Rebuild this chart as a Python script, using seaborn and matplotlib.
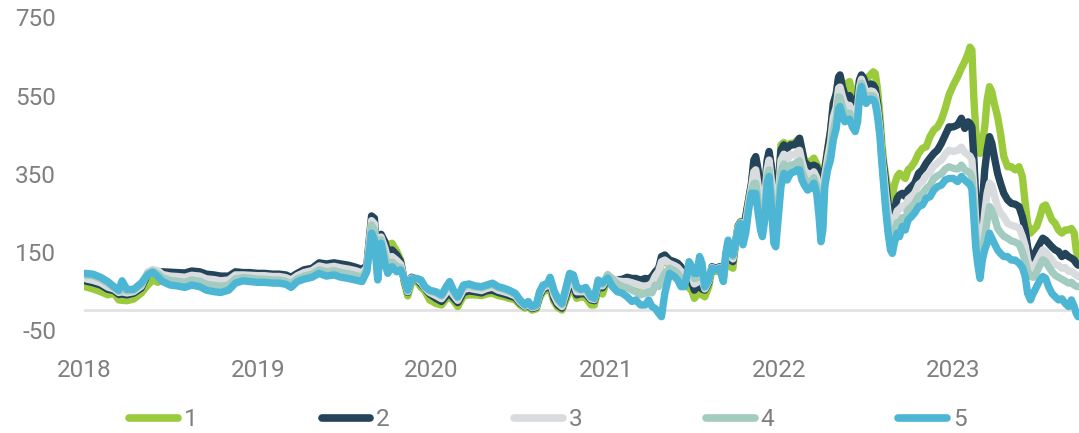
import matplotlib
matplotlib.use("Agg")
import matplotlib.pyplot as plt
import matplotlib.dates as mdates
from matplotlib.lines import Line2D
import pandas as pd
import seaborn as sns

# Observation dates (one line per year)
dates = [
    "2018-01-02", "2018-01-20", "2018-02-05", "2018-02-20", "2018-03-05", "2018-03-15", "2018-03-22", "2018-04-01", "2018-04-15", "2018-05-01", "2018-05-15", "2018-05-25", "2018-06-05", "2018-06-15", "2018-07-01", "2018-07-15", "2018-08-01", "2018-08-15", "2018-09-01", "2018-09-15", "2018-10-01", "2018-10-15", "2018-11-01", "2018-11-15", "2018-12-01", "2018-12-15",
    "2019-01-01", "2019-01-15", "2019-02-01", "2019-02-15", "2019-03-01", "2019-03-12", "2019-03-25", "2019-04-08", "2019-04-25", "2019-05-10", "2019-05-25", "2019-06-10", "2019-06-25", "2019-07-10", "2019-07-25", "2019-08-08", "2019-08-18", "2019-08-28", "2019-09-03", "2019-09-10", "2019-09-17", "2019-09-25", "2019-10-01", "2019-10-10", "2019-10-20", "2019-10-28", "2019-11-05", "2019-11-12", "2019-11-20", "2019-12-01", "2019-12-10", "2019-12-18", "2019-12-28",
    "2020-01-10", "2020-01-22", "2020-02-01", "2020-02-08", "2020-02-16", "2020-02-25", "2020-03-08", "2020-03-20", "2020-04-01", "2020-04-15", "2020-04-25", "2020-05-08", "2020-05-20", "2020-06-01", "2020-06-12", "2020-06-25", "2020-07-05", "2020-07-15", "2020-07-22", "2020-07-30", "2020-08-08", "2020-08-15", "2020-08-22", "2020-09-01", "2020-09-06", "2020-09-14", "2020-09-22", "2020-10-01", "2020-10-10", "2020-10-17", "2020-10-25", "2020-11-01", "2020-11-10", "2020-11-20", "2020-12-01", "2020-12-08", "2020-12-16", "2020-12-25",
    "2021-01-05", "2021-01-15", "2021-01-25", "2021-02-05", "2021-02-15", "2021-02-25", "2021-03-05", "2021-03-15", "2021-03-25", "2021-04-01", "2021-04-08", "2021-04-15", "2021-04-22", "2021-04-28", "2021-05-05", "2021-05-15", "2021-05-25", "2021-06-01", "2021-06-08", "2021-06-15", "2021-06-20", "2021-06-25", "2021-07-01", "2021-07-06", "2021-07-12", "2021-07-17", "2021-07-22", "2021-07-28", "2021-08-05", "2021-08-12", "2021-08-20", "2021-08-28", "2021-09-05", "2021-09-10", "2021-09-15", "2021-09-20", "2021-09-25", "2021-10-01", "2021-10-06", "2021-10-11", "2021-10-16", "2021-10-22", "2021-10-28", "2021-11-03", "2021-11-08", "2021-11-12", "2021-11-17", "2021-11-22", "2021-11-26", "2021-12-01", "2021-12-06", "2021-12-10", "2021-12-15", "2021-12-20", "2021-12-24", "2021-12-29",
    "2022-01-04", "2022-01-10", "2022-01-17", "2022-01-24", "2022-02-01", "2022-02-07", "2022-02-12", "2022-02-17", "2022-02-22", "2022-03-01", "2022-03-07", "2022-03-14", "2022-03-20", "2022-03-25", "2022-03-29", "2022-04-02", "2022-04-06", "2022-04-12", "2022-04-18", "2022-04-24", "2022-04-30", "2022-05-05", "2022-05-08", "2022-05-13", "2022-05-18", "2022-05-23", "2022-05-28", "2022-06-03", "2022-06-09", "2022-06-14", "2022-06-18", "2022-06-22", "2022-06-27", "2022-07-02", "2022-07-07", "2022-07-12", "2022-07-17", "2022-07-21", "2022-07-26", "2022-07-31", "2022-08-04", "2022-08-08", "2022-08-12", "2022-08-17", "2022-08-22", "2022-08-26", "2022-08-30", "2022-09-05", "2022-09-10", "2022-09-16", "2022-09-22", "2022-09-28", "2022-10-05", "2022-10-12", "2022-10-20", "2022-10-28", "2022-11-05", "2022-11-13", "2022-11-21", "2022-11-29", "2022-12-07", "2022-12-15", "2022-12-23",
    "2023-01-01", "2023-01-10", "2023-01-18", "2023-01-25", "2023-02-01", "2023-02-05", "2023-02-09", "2023-02-13", "2023-02-17", "2023-02-21", "2023-02-26", "2023-03-03", "2023-03-08", "2023-03-13", "2023-03-18", "2023-03-23", "2023-03-28", "2023-04-04", "2023-04-10", "2023-04-17", "2023-04-25", "2023-05-03", "2023-05-11", "2023-05-19", "2023-05-26", "2023-06-01", "2023-06-06", "2023-06-12", "2023-06-18", "2023-06-25", "2023-07-02", "2023-07-08", "2023-07-14", "2023-07-20", "2023-07-27", "2023-08-03", "2023-08-10", "2023-08-17", "2023-08-24", "2023-08-31", "2023-09-06", "2023-09-12", "2023-09-16", "2023-09-20",
]

series_1 = [
    61, 55, 48, 40, 44, 27, 26, 25, 29, 44, 65, 78, 72, 80, 78, 76, 74, 80, 77, 70, 67, 65, 68, 82, 84, 84,
    82, 82, 80, 80, 77, 70, 83, 90, 95, 107, 102, 105, 100, 98, 93, 88, 105, 225, 220, 92, 185, 170, 168, 172, 151, 130, 70, 37, 72, 75, 59, 50, 27,
    18, 14, 30, 35, 25, 10, 37, 40, 40, 38, 42, 44, 38, 35, 31, 27, 14, 6, 10, 1, 4, 32, 48, 52, 55, 23, 8, 1, 30, 55, 52, 31, 35, 33, 14, 14, 55, 42,
    82, 80, 73, 71, 71, 68, 65, 61, 58, 61, 67, 85, 97, 122, 126, 117, 112, 107, 97, 78, 62, 58, 50, 31, 40, 75, 40, 35, 60, 105, 100, 106, 82, 120, 140, 112, 108, 175, 218, 228, 200, 242, 285, 325, 380, 385, 350, 280, 285, 315, 380, 400, 360, 285, 245, 310,
    424, 430, 420, 428, 428, 436, 440, 412, 385, 378, 381, 390, 375, 360, 345, 340, 365, 412, 460, 530, 555, 595, 600, 578, 560, 582, 586, 560, 545, 560, 592, 600, 596, 590, 598, 605, 611, 607, 565, 496, 428, 377, 345, 308, 283, 291, 320, 343, 351, 345, 338, 360, 368, 381, 402, 415, 419, 445, 462, 470, 488, 517, 552,
    577, 598, 620, 637, 658, 674, 667, 547, 462, 419, 402, 428, 470, 539, 573, 560, 530, 496, 454, 394, 368, 368, 360, 368, 343, 274, 223, 198, 206, 215, 240, 266, 270, 253, 232, 223, 206, 198, 206, 206, 210, 198, 155, 138,
]

series_2 = [
    76, 71, 65, 54, 51, 41, 42, 40, 44, 57, 94, 100, 98, 99, 98, 97, 96, 101, 99, 93, 91, 88, 88, 99, 97, 97,
    95, 95, 93, 93, 91, 85, 95, 104, 108, 122, 119, 122, 119, 116, 111, 105, 115, 242, 236, 99, 195, 176, 151, 155, 142, 125, 75, 46, 85, 80, 68, 57, 42,
    31, 23, 38, 44, 32, 20, 46, 50, 48, 45, 50, 52, 46, 42, 38, 33, 19, 10, 14, 5, 8, 38, 54, 60, 71, 31, 14, 6, 40, 65, 62, 40, 43, 42, 27, 25, 62, 58,
    80, 78, 78, 80, 85, 82, 82, 78, 82, 80, 87, 99, 108, 138, 142, 129, 125, 121, 112, 95, 85, 75, 70, 52, 60, 95, 55, 52, 70, 112, 108, 112, 95, 130, 160, 129, 125, 178, 215, 226, 198, 240, 283, 326, 385, 394, 360, 283, 274, 317, 385, 407, 368, 283, 240, 317,
    411, 424, 415, 424, 424, 432, 441, 411, 381, 372, 368, 372, 368, 352, 330, 335, 360, 411, 458, 530, 554, 598, 603, 573, 552, 547, 550, 535, 530, 545, 590, 603, 594, 573, 577, 580, 577, 569, 530, 470, 402, 368, 326, 274, 240, 245, 257, 287, 296, 300, 292, 308, 317, 326, 351, 360, 377, 390, 402, 411, 428, 449, 470,
    470, 475, 492, 466, 483, 479, 470, 394, 291, 240, 223, 274, 360, 411, 445, 428, 394, 351, 326, 300, 283, 274, 272, 266, 240, 206, 163, 129, 138, 155, 172, 185, 180, 172, 163, 155, 151, 138, 146, 138, 134, 129, 121, 116,
]

series_3 = [
    82, 77, 71, 60, 55, 46, 48, 45, 48, 62, 99, 105, 102, 92, 88, 87, 85, 90, 88, 81, 79, 76, 78, 91, 91, 90,
    89, 89, 87, 87, 84, 78, 89, 97, 102, 114, 110, 113, 109, 106, 102, 96, 110, 230, 222, 92, 188, 160, 130, 138, 128, 118, 78, 48, 83, 81, 72, 58, 46,
    38, 30, 46, 56, 40, 26, 54, 57, 54, 51, 56, 60, 52, 48, 44, 37, 22, 11, 17, 7, 10, 42, 58, 64, 76, 40, 20, 10, 48, 78, 74, 48, 48, 48, 30, 28, 68, 63,
    85, 83, 76, 74, 74, 71, 68, 64, 61, 64, 70, 88, 100, 125, 129, 120, 115, 110, 100, 85, 87, 95, 85, 68, 72, 110, 80, 55, 74, 110, 106, 110, 88, 136, 168, 140, 132, 177, 212, 225, 188, 225, 275, 316, 355, 360, 320, 255, 245, 290, 362, 385, 330, 240, 210, 290,
    385, 400, 385, 400, 398, 405, 410, 382, 360, 348, 346, 355, 340, 310, 290, 295, 345, 390, 430, 495, 520, 569, 572, 548, 528, 525, 525, 510, 502, 520, 572, 592, 575, 556, 560, 562, 560, 552, 515, 460, 394, 350, 300, 250, 210, 205, 230, 255, 260, 268, 260, 285, 292, 300, 322, 330, 345, 355, 370, 378, 385, 400, 410,
    407, 410, 418, 405, 398, 395, 385, 320, 230, 190, 165, 185, 250, 300, 326, 320, 295, 265, 250, 240, 223, 218, 215, 212, 190, 165, 130, 104, 110, 125, 142, 155, 150, 140, 130, 118, 115, 108, 110, 100, 100, 95, 90, 87,
]

series_4 = [
    91, 89, 81, 70, 58, 49, 55, 50, 51, 66, 95, 101, 94, 84, 77, 75, 72, 78, 75, 67, 64, 62, 65, 81, 84, 83,
    80, 80, 78, 78, 75, 68, 81, 88, 93, 104, 99, 102, 97, 94, 90, 85, 105, 219, 205, 86, 181, 142, 112, 124, 113, 110, 80, 50, 81, 82, 76, 59, 50,
    45, 37, 57, 70, 48, 32, 61, 64, 60, 58, 62, 67, 58, 54, 49, 41, 25, 13, 20, 9, 12, 46, 62, 67, 81, 48, 27, 15, 56, 90, 86, 56, 52, 55, 33, 30, 74, 67,
    92, 80, 68, 61, 58, 52, 48, 40, 44, 48, 45, 65, 61, 78, 95, 108, 102, 95, 82, 72, 87, 110, 100, 82, 84, 125, 100, 58, 76, 109, 105, 109, 80, 141, 175, 148, 138, 176, 209, 224, 178, 210, 265, 308, 325, 326, 280, 228, 212, 258, 345, 360, 296, 200, 185, 260,
    355, 375, 356, 372, 374, 380, 383, 356, 340, 325, 328, 340, 318, 270, 240, 250, 330, 372, 405, 462, 490, 547, 545, 522, 505, 505, 505, 490, 478, 500, 560, 582, 560, 543, 549, 550, 549, 540, 505, 452, 385, 332, 278, 222, 180, 175, 200, 225, 222, 238, 230, 258, 265, 275, 292, 298, 312, 320, 338, 345, 350, 362, 368,
    364, 362, 372, 360, 355, 352, 340, 275, 195, 150, 125, 150, 190, 230, 266, 255, 240, 210, 200, 190, 185, 178, 175, 170, 150, 125, 100, 87, 85, 98, 116, 130, 125, 112, 100, 90, 85, 80, 75, 70, 72, 65, 62, 61,
]

series_5 = [
    95, 93, 85, 74, 61, 52, 76, 54, 54, 70, 91, 98, 87, 74, 65, 63, 59, 65, 61, 52, 48, 46, 52, 70, 76, 74,
    72, 72, 70, 70, 67, 59, 74, 80, 85, 95, 88, 91, 85, 82, 78, 74, 99, 198, 180, 78, 172, 121, 95, 112, 99, 104, 82, 52, 80, 82, 78, 61, 52,
    48, 40, 61, 74, 52, 35, 65, 68, 63, 61, 65, 70, 61, 57, 52, 44, 27, 14, 23, 10, 14, 48, 65, 70, 85, 52, 31, 18, 61, 95, 91, 61, 54, 59, 35, 31, 78, 70,
    83, 61, 48, 44, 35, 23, 27, 14, 14, 27, 10, 5, -7, -16, 44, 95, 87, 78, 61, 61, 87, 125, 112, 95, 95, 138, 121, 61, 78, 108, 104, 108, 74, 146, 180, 155, 142, 176, 206, 223, 168, 198, 257, 300, 300, 300, 249, 206, 189, 232, 326, 343, 266, 172, 163, 232,
    317, 351, 334, 351, 355, 360, 360, 334, 321, 308, 313, 326, 300, 240, 176, 206, 317, 360, 385, 437, 466, 517, 522, 500, 483, 488, 490, 470, 458, 483, 547, 573, 547, 530, 539, 541, 539, 530, 496, 445, 377, 317, 257, 198, 155, 146, 172, 198, 189, 215, 206, 232, 240, 250, 266, 270, 287, 291, 308, 317, 321, 334, 338,
    338, 330, 343, 334, 326, 323, 310, 240, 163, 121, 82, 129, 155, 172, 198, 185, 172, 155, 146, 138, 138, 129, 129, 121, 110, 87, 44, 27, 44, 61, 78, 87, 82, 61, 44, 35, 27, 30, 18, 10, 27, 10, -7, -16,
]

series_names = ["1", "2", "3", "4", "5"]
line_colors = ["#9bca3c", "#24445a", "#d9dcdf", "#a3cbc0", "#4db6d4"]
y_ticks = [-50, 150, 350, 550, 750]
x_tick_labels = ["2018", "2019", "2020", "2021", "2022", "2023"]

sns.set_theme(style="white")
plt.rcParams["font.family"] = ["Roboto", "DejaVu Sans"]

W, H = 1079, 433
fig = plt.figure(figsize=(W / 100, H / 100), dpi=100)
ax = fig.add_axes([84 / W, 1 - 330 / H, (W - 84) / W, (330 - 17.5) / H])

frame = pd.DataFrame({
    "date": pd.to_datetime(dates),
    "1": series_1, "2": series_2, "3": series_3, "4": series_4, "5": series_5,
})
long = frame.melt(id_vars="date", var_name="series", value_name="value")

ax.axhline(0, color="#e2e2e2", lw=2, zorder=0)
sns.lineplot(
    data=long, x="date", y="value", hue="series", hue_order=series_names,
    palette=dict(zip(series_names, line_colors)), linewidth=5.3,
    estimator=None, legend=False, ax=ax,
    solid_capstyle="round", solid_joinstyle="round",
)

ax.set_xlim(mdates.date2num(pd.Timestamp("2018-01-01")), mdates.date2num(pd.Timestamp("2023-09-22")))
ax.set_ylim(-50, 750)
ax.set_yticks(y_ticks)
ax.set_yticklabels([str(v) for v in y_ticks])
tick_pos = [mdates.date2num(pd.Timestamp(f"{y}-01-01")) for y in x_tick_labels]
ax.set_xticks(tick_pos)
ax.set_xticklabels(x_tick_labels)
ax.set_xlabel("")
ax.set_ylabel("")
ax.grid(False)
for s in ax.spines.values():
    s.set_visible(False)

text_grey = "#7f7f7f"
ax.tick_params(axis="both", length=0, labelsize=17.5, labelcolor=text_grey)
ax.tick_params(axis="y", pad=20)
ax.tick_params(axis="x", pad=21)

handles = [Line2D([], [], color=c, lw=5.5, solid_capstyle="round") for c in line_colors]
fig.legend(
    handles, series_names, loc="center", bbox_to_anchor=(548 / W, 1 - 420 / H),
    ncol=5, frameon=False, fontsize=17.5, labelcolor=text_grey,
    handlelength=2.0, handletextpad=0.25, columnspacing=5.1,
    borderpad=0, borderaxespad=0,
)

fig.savefig("out.png", dpi=100)
